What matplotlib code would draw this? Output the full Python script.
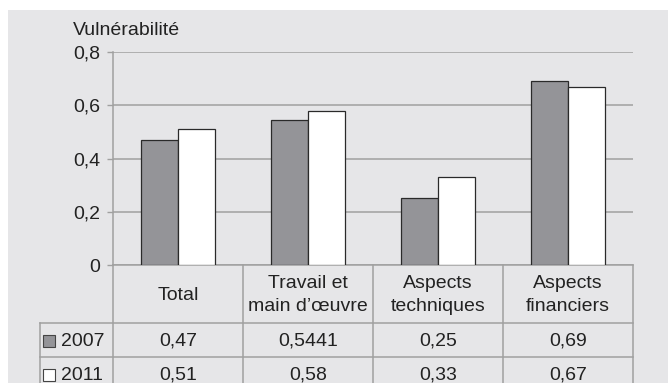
import matplotlib.pyplot as plt
import matplotlib.transforms as mtransforms
from matplotlib.lines import Line2D
from matplotlib.patches import Rectangle

# data
categories = ['Total', 'Travail et\nmain d\u2019\u0153uvre', 'Aspects\ntechniques', 'Aspects\nfinanciers']
series_names = ['2007', '2011']
values_2007 = [0.47, 0.5441, 0.25, 0.69]
values_2011 = [0.51, 0.58, 0.33, 0.67]
labels_2007 = ['0,47', '0,5441', '0,25', '0,69']
labels_2011 = ['0,51', '0,58', '0,33', '0,67']
y_ticks = [0, 0.2, 0.4, 0.6, 0.8]
y_tick_labels = ['0', '0,2', '0,4', '0,6', '0,8']

plt.rcParams['font.family'] = ['Liberation Sans', 'DejaVu Sans']

W, H = 668, 383
BG = '#e6e6e8'
GRID = '#a0a0a0'
BAR_GRAY = '#949498'
FS = 14


def fx(px):
    return px / W


def fy(py):
    return 1 - py / H


fig = plt.figure(figsize=(W / 100, H / 100), dpi=100, facecolor='white')
# gray panel, leaving the thin white margin at top and left
fig.patches.append(Rectangle((fx(8), 0), 1 - fx(8), fy(10), transform=fig.transFigure,
                             facecolor=BG, edgecolor='none', zorder=-5))

ax = fig.add_axes([fx(113), fy(265), fx(633) - fx(113), fy(52) - fy(265)])
ax.set_facecolor('none')
ax.set_zorder(2)

x = list(range(len(categories)))
bw = 0.285
ax.bar([i - bw / 2 for i in x], values_2007, width=bw, color=BAR_GRAY,
       edgecolor='#2a2a2a', linewidth=0.9, zorder=3)
ax.bar([i + bw / 2 for i in x], values_2011, width=bw, color='white',
       edgecolor='#2a2a2a', linewidth=0.9, zorder=3)

ax.set_xlim(-0.5, len(categories) - 0.5)
ax.set_ylim(0, 0.8)
ax.set_yticks(y_ticks)
ax.set_yticklabels(y_tick_labels, fontsize=FS, color='#222222')
ax.set_xticks([])
ax.yaxis.grid(True, color=GRID, linewidth=1.1, zorder=1)
ax.tick_params(axis='y', length=4, width=1, color=GRID, pad=5)
for s in ['top', 'right', 'bottom']:
    ax.spines[s].set_visible(False)
ax.spines['left'].set_color(GRID)
ax.spines['left'].set_linewidth(1.1)

fig.text(fx(73), fy(35), 'Vulnérabilité', fontsize=FS, color='#222222',
         ha='left', va='baseline')

# data table under the axis
tr = mtransforms.blended_transform_factory(ax.transData, fig.transFigure)
bounds = [i - 0.5 for i in range(len(categories) + 1)]
y_top, y_head, y_r1, y_bot = 265, 323, 357, 395

fig.add_artist(Line2D([bounds[0], bounds[-1]], [fy(y_top), fy(y_top)], transform=tr,
                      color=GRID, linewidth=1.1, clip_on=False))
for yy in [y_head, y_r1]:
    fig.add_artist(Line2D([fx(40), fx(633)], [fy(yy), fy(yy)], transform=fig.transFigure,
                          color=GRID, linewidth=1.1, clip_on=False))
for b in bounds:
    fig.add_artist(Line2D([b, b], [fy(y_top), fy(y_bot)], transform=tr,
                          color=GRID, linewidth=1.1, clip_on=False))
fig.add_artist(Line2D([fx(40), fx(40)], [fy(y_head), fy(y_bot)], transform=fig.transFigure,
                      color=GRID, linewidth=1.1, clip_on=False))

for i, cat in enumerate(categories):
    fig.text(i, fy((y_top + y_head) / 2 + 1), cat, transform=tr, fontsize=FS,
             color='#222222', ha='center', va='center', linespacing=1.5)
    fig.text(i, fy((y_head + y_r1) / 2 + 1), labels_2007[i], transform=tr, fontsize=FS,
             color='#222222', ha='center', va='center')
    fig.text(i, fy((y_r1 + y_bot) / 2 - 1), labels_2011[i], transform=tr, fontsize=FS,
             color='#222222', ha='center', va='center')

# row labels with legend keys
for name, col, yc in [(series_names[0], BAR_GRAY, (y_head + y_r1) / 2 + 1),
                      (series_names[1], 'white', (y_r1 + y_bot) / 2 - 1)]:
    fig.add_artist(Line2D([fx(49)], [fy(yc)], transform=fig.transFigure, marker='s',
                          markersize=8.5, markerfacecolor=col, markeredgecolor='#444444',
                          markeredgewidth=0.8, linestyle='none'))
    fig.text(fx(61), fy(yc), name, fontsize=FS, color='#222222', ha='left', va='center')

fig.savefig('out.png', dpi=100, facecolor='white')
